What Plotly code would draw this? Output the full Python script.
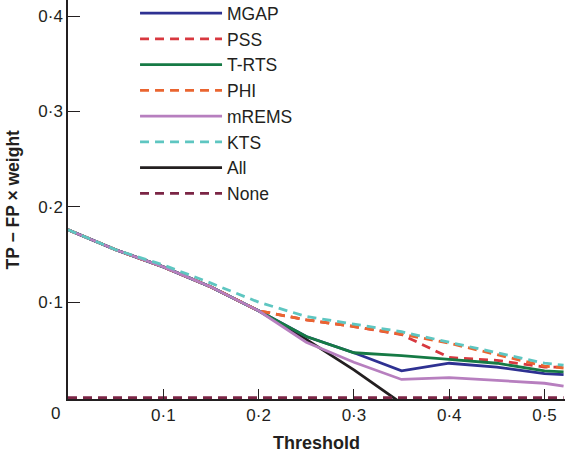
import plotly.graph_objects as go

# ---- data ----
thresholds = [0, 0.05, 0.1, 0.15, 0.2, 0.25, 0.3, 0.35, 0.4, 0.45, 0.5, 0.52]

mgap  = [0.176, 0.155, 0.137, 0.116, 0.091, 0.064, 0.047, 0.028, 0.036, 0.032, 0.025, 0.024]
pss   = [0.176, 0.155, 0.137, 0.116, 0.091, 0.0815, 0.0745, 0.066, 0.042, 0.039, 0.032, 0.032]
trts  = [0.176, 0.155, 0.137, 0.116, 0.091, 0.064, 0.047, 0.044, 0.040, 0.036, 0.028, 0.027]
phi   = [0.176, 0.155, 0.137, 0.116, 0.091, 0.0815, 0.0745, 0.0665, 0.057, 0.045, 0.033, 0.031]
mrems = [0.176, 0.155, 0.137, 0.116, 0.091, 0.058, 0.037, 0.019, 0.021, 0.018, 0.015, 0.012]
kts   = [0.176, 0.155, 0.139, 0.120, 0.100, 0.085, 0.077, 0.069, 0.058, 0.047, 0.036, 0.034]
all_  = [0.176, 0.155, 0.137, 0.116, 0.091, 0.061, 0.029, -0.006]
none_ = [0, 0, 0, 0, 0, 0, 0, 0, 0, 0, 0, 0]

series_names = ["MGAP", "PSS", "T-RTS", "PHI", "mREMS", "KTS", "All", "None"]
series_values = [mgap, pss, trts, phi, mrems, kts, all_, none_]
series_colors = ["#2e3192", "#d8383f", "#167a45", "#ea6530", "#b77fbf", "#5ec6c1", "#231f20", "#7b2545"]
series_dash = ["solid", "9px,6px", "solid", "9px,6px", "solid", "9px,6px", "solid", "9px,6px"]
# drawing order (bottom to top) as seen in the reference
draw_order = ["All", "None", "MGAP", "PSS", "T-RTS", "PHI", "mREMS", "KTS"]

x_tickvals = [0.1, 0.2, 0.3, 0.4, 0.5]
x_ticktext = ["0·1", "0·2", "0·3", "0·4", "0·5"]
y_tickvals = [0.1, 0.2, 0.3, 0.4]
y_ticktext = ["0·1", "0·2", "0·3", "0·4"]

FONT = "Liberation Sans, Arial, Helvetica, sans-serif"
INK = "#231f20"

fig = go.Figure()
for name in draw_order:
    i = series_names.index(name)
    vals = series_values[i]
    fig.add_trace(go.Scatter(
        x=thresholds[:len(vals)], y=vals, name=name, mode="lines",
        legendrank=i + 1,
        line=dict(color=series_colors[i], width=2.8, dash=series_dash[i]),
    ))

fig.update_layout(
    width=565, height=455,
    margin=dict(l=68, r=0, t=0, b=56, autoexpand=False),
    paper_bgcolor="white", plot_bgcolor="white",
    font=dict(family=FONT, size=17, color=INK),
    showlegend=True,
    legend=dict(
        xref="container", yref="paper",
        x=0.239, y=1.012, xanchor="left", yanchor="top",
        bgcolor="rgba(0,0,0,0)", borderwidth=0,
        font=dict(family=FONT, size=17.5, color=INK),
        itemwidth=82, tracegroupgap=0, traceorder="normal",
    ),
    xaxis=dict(
        range=[0, 0.5215], showgrid=False, zeroline=False,
        showline=True, linecolor=INK, linewidth=1.5,
        ticks="inside", ticklen=10, tickwidth=1.2, tickcolor=INK,
        tickvals=x_tickvals, ticktext=x_ticktext,
        tickfont=dict(family=FONT, size=17, color=INK),
    ),
    yaxis=dict(
        range=[-0.0015, 0.4168], showgrid=False, zeroline=False,
        showline=True, linecolor=INK, linewidth=1.5,
        ticks="inside", ticklen=12, tickwidth=1.2, tickcolor=INK,
        tickvals=y_tickvals, ticktext=y_ticktext,
        tickfont=dict(family=FONT, size=17, color=INK),
    ),
)

# shared origin label
fig.add_annotation(
    text="0", x=0, y=0, xref="x", yref="y", showarrow=False,
    xanchor="center", yanchor="top", xshift=-13, yshift=-4,
    font=dict(family=FONT, size=17, color=INK),
)
# axis titles
fig.add_annotation(
    text="<b>Threshold</b>", x=0.5, y=-0.105, xref="paper", yref="paper",
    yshift=-2, showarrow=False, xanchor="center", yanchor="middle",
    font=dict(family=FONT, size=18, color=INK),
)
fig.add_annotation(
    text="<b>TP − FP × weight</b>", x=0, y=0.5, xref="paper", yref="paper",
    xshift=-56, showarrow=False, xanchor="center", yanchor="middle", textangle=-90,
    font=dict(family=FONT, size=17.5, color=INK),
)

fig.write_html(
    "out.html",
    config={"displayModeBar": False},
    post_script="document.body.style.margin='0';document.body.style.overflow='hidden';",
)
